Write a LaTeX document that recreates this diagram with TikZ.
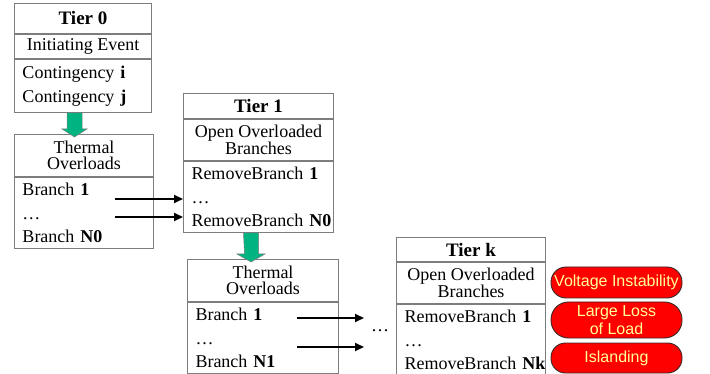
\documentclass[tikz,border=0pt]{standalone}
\usepackage{fontspec}
\setmainfont{Liberation Serif}
\newfontfamily\arialfont{Liberation Sans}
\usetikzlibrary{calc,arrows.meta}

\definecolor{boxgray}{RGB}{125,125,125}
\definecolor{arrowgreen}{RGB}{0,180,130}
\definecolor{paleyellow}{RGB}{255,255,150}
\definecolor{outline}{RGB}{60,40,40}

\begin{document}
\begin{tikzpicture}[x=1pt,y=-1pt,
  cell/.style={draw=boxgray, line width=1pt, inner sep=0pt, anchor=north west,
    font=\fontsize{18}{16.5}\selectfont, align=center},
  titlecell/.style={cell, font=\fontsize{19}{20}\selectfont\bfseries},
  listcell/.style={cell, align=left, inner xsep=8pt, inner ysep=0pt,
    font=\fontsize{18}{23.5}\selectfont},
  outcome/.style={draw=outline, line width=0.9pt, fill=red, text=paleyellow,
    font=\arialfont\fontsize{16}{18}\selectfont, minimum width=131pt,
    inner sep=0pt, align=center},
  conn/.style={-{Triangle[length=9pt,width=8pt]}, line width=2pt},
  blockarrow/.style={fill=arrowgreen, draw=boxgray, line width=0.5pt}
]
\useasboundingbox (0,0) rectangle (710,374);

% Tier 0
\node[titlecell, minimum width=137pt, minimum height=30pt] (t0title) at (14,3) {Tier 0};
\node[cell, minimum width=137pt, minimum height=24pt] (t0sub) at (t0title.south west) {Initiating Event};
\node[listcell, minimum height=53pt, text width=121pt] (t0list) at (t0sub.south west)
  {Contingency~\textbf{i}\\Contingency~\textbf{j}};

% Thermal overloads 1
\node[cell, minimum width=139pt, minimum height=42pt] (th1title) at (14,134) {Thermal\\Overloads};
\node[listcell, minimum height=71pt, text width=123pt] (th1list) at (th1title.south west)
  {Branch~\textbf{1}\\\dots\\Branch~\textbf{N0}};

% Tier 1
\node[titlecell, minimum width=150pt, minimum height=25pt] (t1title) at (183,93) {Tier 1};
\node[cell, minimum width=150pt, minimum height=41pt] (t1sub) at (t1title.south west) {Open Overloaded\\Branches};
\node[listcell, minimum height=71pt, text width=134pt] (t1list) at (t1sub.south west)
  {RemoveBranch~\textbf{1}\\\dots\\RemoveBranch~\textbf{N0}};

% Thermal overloads 2
\node[cell, minimum width=151pt, minimum height=42pt] (th2title) at (187,259) {Thermal\\Overloads};
\node[listcell, minimum height=71pt, text width=135pt] (th2list) at (th2title.south west)
  {Branch~\textbf{1}\\\dots\\Branch~\textbf{N1}};

% Tier k
\node[titlecell, minimum width=149pt, minimum height=24pt] (tktitle) at (396,237) {Tier k};
\node[cell, minimum width=149pt, minimum height=41pt] (tksub) at (tktitle.south west) {Open Overloaded\\Branches};
\node[listcell, minimum height=71pt, text width=133pt] (tklist) at (tksub.south west)
  {RemoveBranch~\textbf{1}\\\dots\\RemoveBranch~\textbf{Nk}};

% outcomes
\node[outcome, minimum height=31pt, rounded corners=15pt] (o1) at (616.5,282.5) {Voltage Instability};
\node[outcome, minimum height=36pt, rounded corners=17.5pt] (o2) at (616.5,320) {Large Loss\\of Load};
\node[outcome, minimum height=30pt, rounded corners=14.5pt] (o3) at (616.5,358) {Islanding};

% green block arrows
\coordinate (g1) at ($(t0list.south west)+(60.5,0)$);
\draw[blockarrow] ($(g1)+(-7.5,0)$) -- ++(15,0) -- ++(0,16) -- ++(5,0)
  -- ($(g1)+(0,24)$) -- ++(-12.5,-8) -- ++(5,0) -- cycle;
\coordinate (g2) at ($(t1list.south west)+(68,0)$);
\draw[blockarrow] ($(g2)+(-7.5,0)$) -- ++(15,0) -- ++(0,21) -- ++(6.5,0)
  -- ($(g2)+(0,29)$) -- ++(-14,-8) -- ++(7.5,0) -- cycle;

% black connectors
\coordinate (a1) at (115,199);
\coordinate (a2) at (115,217);
\draw[conn] (a1) -- (a1 -| t1list.west);
\draw[conn] (a2) -- (a2 -| t1list.west);
\coordinate (b1) at (297,318);
\coordinate (b1e) at (364,318);
\coordinate (b2) at (297,347);
\coordinate (b2e) at (364,347);
\draw[conn] (b1) -- (b1e);
\draw[conn] (b2) -- (b2e);

\node[font=\fontsize{18}{20}\selectfont, inner sep=0pt] (dots) at (380,331) {\dots};
\end{tikzpicture}
\end{document}
